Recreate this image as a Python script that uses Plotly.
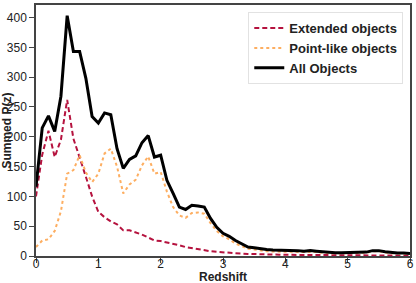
import plotly.graph_objects as go

redshift = [round(i * 0.1, 1) for i in range(61)]

all_objects = [116, 215, 235, 209, 268, 403, 343, 343, 298, 234,
               223, 240, 237, 180, 147, 162, 168, 190, 202, 166,
               169, 127, 105, 82, 78, 85, 84, 82, 63, 48,
               38, 33, 26, 20, 15, 14, 12, 11, 10, 10,
               9.5, 9, 9, 8, 9, 8, 7, 6, 5.5, 5.5,
               6, 6.5, 6, 6.5, 9, 9, 7, 5.5, 5, 5, 4]

extended = [100, 170, 210, 166, 195, 262, 197, 166, 133, 100,
            74, 65, 58, 53, 43, 43, 40, 36, 31, 26,
            25, 23, 20, 18, 15, 13, 11, 9, 8, 7,
            6, 5, 4.5, 4, 3.5, 3, 3, 2.8, 2.5, 2.2,
            2, 1.9, 1.8, 1.7, 1.6, 1.5, 1.4, 1.3, 1.2, 1.1,
            1, 1, 0.9, 0.9, 0.8, 0.8, 0.7, 0.7, 0.6, 0.6, 0.5]

point_like = [15, 26, 28, 42, 75, 138, 144, 169, 140, 124,
              138, 172, 180, 150, 105, 120, 128, 152, 167, 138,
              141, 108, 82, 68, 64, 72, 73, 71, 55, 42,
              33, 28, 21, 16, 12, 11, 9, 8, 7.5, 7.5,
              7.5, 7, 7, 6.5, 7, 6.5, 5.5, 4.5, 4.5, 4.5,
              5, 5.5, 5, 5.5, 8, 8, 6, 4.5, 4.5, 4.5, 3.5]

x_title = "Redshift"
y_title = "Summed P(z)"
x_ticks = [0, 1, 2, 3, 4, 5, 6]
y_ticks = list(range(0, 401, 50))

FONT = "Liberation Sans, Arial, sans-serif"

fig = go.Figure()
fig.add_trace(go.Scatter(x=redshift, y=extended, mode="lines", name="<b>Extended objects</b>",
                         line=dict(color="#b5123e", width=2, dash="5px,3px")))
fig.add_trace(go.Scatter(x=redshift, y=point_like, mode="lines", name="<b>Point-like objects</b>",
                         line=dict(color="#fdae61", width=2, dash="dot")))
fig.add_trace(go.Scatter(x=redshift, y=all_objects, mode="lines", name="<b>All Objects</b>",
                         line=dict(color="#000000", width=3)))

fig.update_layout(
    width=416, height=283,
    margin=dict(l=36, r=6, t=5, b=27, autoexpand=False),
    plot_bgcolor="white", paper_bgcolor="white",
    font=dict(family=FONT, size=12, color="#222"),
    legend=dict(x=0.982, y=0.972, xanchor="right", yanchor="top",
                bgcolor="white", bordercolor="#e2e2e2", borderwidth=1,
                font=dict(family=FONT, size=13, color="#222"),
                itemwidth=30, traceorder="normal", tracegroupgap=0),
    showlegend=True,
    annotations=[
        dict(text="<b>" + x_title + "</b>", xref="paper", yref="paper",
             x=0.5, y=-0.083, xanchor="center", yanchor="middle", showarrow=False,
             font=dict(family=FONT, size=12, color="#222")),
        dict(text="<b>" + y_title + "</b>", xref="paper", yref="paper",
             x=-0.08, y=0.5, xanchor="center", yanchor="middle", showarrow=False,
             textangle=-90, font=dict(family=FONT, size=12, color="#222")),
    ],
)
fig.update_xaxes(range=[0, 6], tickvals=x_ticks, ticks="outside", ticklen=5, tickcolor="#444",
                 showline=True, linecolor="#444", linewidth=1.5, mirror=True,
                 showgrid=False, zeroline=False, automargin=False, ticklabelstandoff=-9,
                 tickfont=dict(family=FONT, size=12, color="#222"))
fig.update_yaxes(range=[0, 421], tickvals=y_ticks, ticks="outside", ticklen=5, tickcolor="#444",
                 showline=True, linecolor="#444", linewidth=1.5, mirror=True,
                 showgrid=False, zeroline=False, automargin=False,
                 tickfont=dict(family=FONT, size=12, color="#222"))

fig.write_html("out.html", config={"displayModeBar": False},
               post_script="document.body.style.margin='0px';document.body.style.overflow='hidden';")
